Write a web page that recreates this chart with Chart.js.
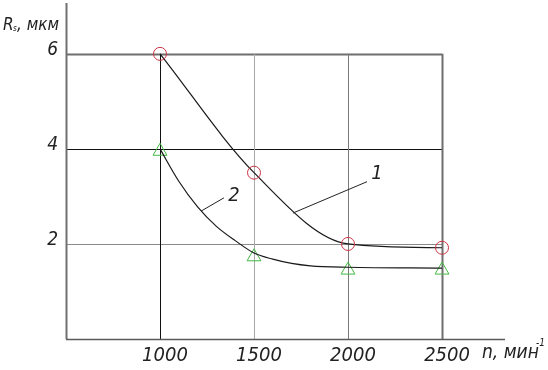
<!DOCTYPE html>
<html>
<head>
<meta charset="utf-8">
<script src="https://cdn.jsdelivr.net/npm/chart.js@4.4.0/dist/chart.umd.min.js"></script>
<style>
  html, body { margin: 0; padding: 0; background: #fff; }
  #wrap { width: 548px; height: 370px; }
</style>
</head>
<body>
<div id="wrap"><canvas id="chart" width="548" height="370"></canvas></div>
<script>
// rotation speed, min^-1
const rpm = [1000, 1500, 2000, 2500];
// measured roughness, um
const rough1 = [6.0, 3.5, 2.0, 1.92];
const rough2 = [3.95, 1.73, 1.45, 1.45];
// trend curve 2 as drawn on the picture
const curve2X = [1000, 1100, 1200, 1300, 1400, 1500, 1600, 1700, 1800, 2000, 2500];
const curve2Y = [4.0, 3.32, 2.78, 2.37, 2.07, 1.81, 1.68, 1.59, 1.54, 1.51, 1.49];
// tick labels
const xTicks = [1000, 1500, 2000, 2500];
const yTicks = [2, 4, 6];

const FONT = "'Liberation Sans Narrow', 'DejaVu Sans Condensed', sans-serif";

const pts = (xs, ys) => xs.map((x, i) => ({ x: x, y: ys[i] }));

// frame + grid, only up to 6 and 2500 like the drawing
const gridPlugin = {
    id: 'gridPlugin',
    beforeDatasetsDraw(chart) {
        const ctx = chart.ctx;
        const xs = chart.scales.x, ys = chart.scales.y;
        const x0 = xs.getPixelForValue(xs.min);
        const y0 = ys.getPixelForValue(0);
        const xEnd = xs.getPixelForValue(xTicks[xTicks.length - 1]);
        const yTop = ys.getPixelForValue(yTicks[yTicks.length - 1]);
        const line = (ax, ay, bx, by, color, w) => {
            ctx.beginPath();
            ctx.strokeStyle = color;
            ctx.lineWidth = w;
            ctx.moveTo(ax, ay);
            ctx.lineTo(bx, by);
            ctx.stroke();
        };
        ctx.save();
        // horizontal lines
        const hStyle = { 2: ['#8a8a8a', 1], 4: ['#111', 1], 6: ['#6e6e6e', 2] };
        yTicks.forEach(v => {
            const y = Math.round(ys.getPixelForValue(v)) + 0.5;
            line(x0, y, xEnd, y, hStyle[v][0], hStyle[v][1]);
        });
        // vertical lines
        const vStyle = { 1000: ['#111', 1], 1500: ['#a8a8a8', 1], 2000: ['#7a7a7a', 1], 2500: ['#6e6e6e', 2] };
        xTicks.forEach(v => {
            const x = Math.round(xs.getPixelForValue(v)) + 0.5;
            line(x, y0, x, yTop, vStyle[v][0], vStyle[v][1]);
        });
        // axes
        line(x0 + 0.5, y0, x0 + 0.5, ys.getPixelForValue(ys.max), '#707070', 2);
        line(x0, Math.round(y0) + 0.5, xs.getPixelForValue(xs.max), Math.round(y0) + 0.5, '#5a5a5a', 1.5);
        ctx.restore();
    },
    afterDraw(chart) {
        const ctx = chart.ctx;
        const xs = chart.scales.x, ys = chart.scales.y;
        const px = v => xs.getPixelForValue(v);
        const py = v => ys.getPixelForValue(v);
        ctx.save();
        ctx.fillStyle = '#222';
        ctx.strokeStyle = '#222';
        ctx.lineWidth = 1;
        // curve numbers with leader lines
        const notes = [
            { t: '1', x: 2154, y: 3.47, from: [2101, 3.31], to: [1707, 2.65] },
            { t: '2', x: 1394, y: 3.01, from: [1340, 2.97], to: [1218, 2.69] }
        ];
        ctx.font = 'italic 20px ' + FONT;
        ctx.textAlign = 'center';
        ctx.textBaseline = 'middle';
        notes.forEach(n => {
            ctx.beginPath();
            ctx.moveTo(px(n.from[0]), py(n.from[1]));
            ctx.lineTo(px(n.to[0]), py(n.to[1]));
            ctx.stroke();
            ctx.fillText(n.t, px(n.x), py(n.y));
        });
        // axis titles
        ctx.textAlign = 'left';
        ctx.textBaseline = 'alphabetic';
        ctx.font = 'italic 17px ' + FONT;
        ctx.fillText('R', 3, 30);
        ctx.font = 'italic 8px ' + FONT;
        ctx.fillText('s', 13, 31);
        ctx.font = 'italic 17px ' + FONT;
        ctx.fillText(', мкм', 17, 30);

        ctx.font = 'italic 19px ' + FONT;
        ctx.fillText('n, мин', 482, 358);
        ctx.font = 'italic 10px ' + FONT;
        ctx.fillText('-1', 536, 346);
        ctx.restore();
    }
};

new Chart(document.getElementById('chart'), {
    type: 'scatter',
    data: {
        datasets: [
            {
                label: '1',
                data: pts(rpm, rough1),
                showLine: true,
                cubicInterpolationMode: 'monotone',
                borderColor: '#1a1a1a',
                borderWidth: 1.2,
                pointStyle: 'circle',
                pointRadius: 6.5,
                pointBorderWidth: 1,
                pointBorderColor: '#cc3344',
                pointBackgroundColor: 'rgba(0,0,0,0)'
            },
            {
                label: '2 curve',
                data: pts(curve2X, curve2Y),
                showLine: true,
                cubicInterpolationMode: 'monotone',
                borderColor: '#1a1a1a',
                borderWidth: 1.2,
                pointRadius: 0
            },
            {
                label: '2',
                data: pts(rpm, rough2),
                showLine: false,
                pointStyle: 'triangle',
                pointRadius: 8,
                pointBorderWidth: 1,
                pointBorderColor: '#44b844',
                pointBackgroundColor: 'rgba(0,0,0,0)'
            }
        ]
    },
    options: {
        responsive: false,
        devicePixelRatio: 1,
        animation: false,
        clip: false,
        layout: { autoPadding: false, padding: { left: 0, right: 43, top: 3, bottom: 0 } },
        plugins: { legend: { display: false }, tooltip: { enabled: false } },
        scales: {
            x: {
                type: 'linear',
                min: 500,
                max: 2835,
                grid: { display: false, drawTicks: false },
                border: { display: false },
                afterBuildTicks: s => { s.ticks = xTicks.map(v => ({ value: v })); },
                afterFit: s => { s.height = 31; s.paddingLeft = 0; s.paddingRight = 0; },
                ticks: {
                    padding: 5,
                    labelOffset: 5,
                    maxRotation: 0,
                    autoSkip: false,
                    color: '#222',
                    callback: v => String(v),
                    font: { family: FONT, size: 20, style: 'italic' }
                }
            },
            y: {
                type: 'linear',
                min: 0,
                max: 7.07,
                grid: { display: false, drawTicks: false },
                border: { display: false },
                afterBuildTicks: s => { s.ticks = yTicks.map(v => ({ value: v })); },
                afterFit: s => { s.width = 66; s.paddingTop = 0; s.paddingBottom = 0; },
                ticks: {
                    padding: 8,
                    labelOffset: -4,
                    color: '#222',
                    callback: v => String(v),
                    font: { family: FONT, size: 19, style: 'italic' }
                }
            }
        }
    },
    plugins: [gridPlugin]
});
</script>
</body>
</html>
